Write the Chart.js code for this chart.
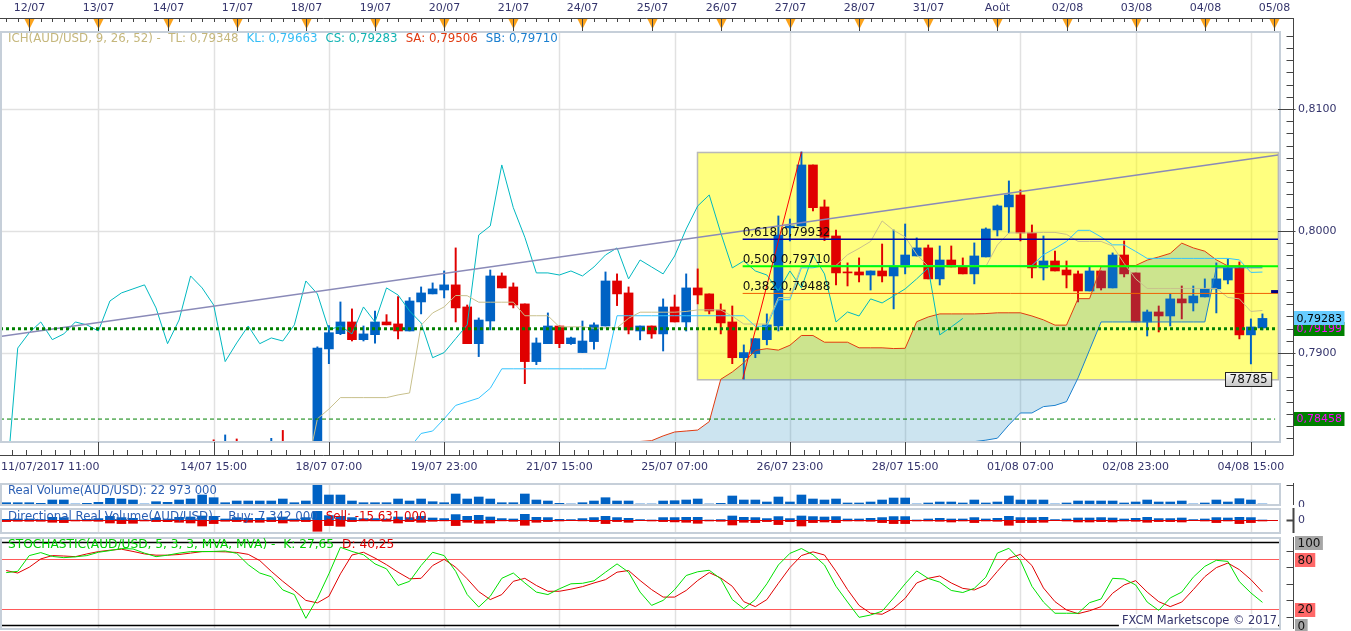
<!DOCTYPE html>
<html lang="fr">
<head>
<meta charset="UTF-8" />
<title>AUD/USD H4 - Ichimoku</title>
<style>
  body { margin: 0; background: #fff; width: 1351px; height: 631px; overflow: hidden; position: relative; }
  canvas { position: absolute; left: 0; }
</style>
</head>
<body>
<canvas id="main" width="1351" height="476" style="top:0"></canvas>
<canvas id="vol" width="1351" height="31" style="top:476px"></canvas>
<canvas id="dir" width="1351" height="29" style="top:507px"></canvas>
<canvas id="sto" width="1351" height="95" style="top:536px"></canvas>

<script src="https://cdn.jsdelivr.net/npm/chart.js"></script>
<script>
// 4h candles, index 0 = 11/07 15:00, index 109 = 04/08 19:00
const opens = [
  null,null,null,null,null,null,null,null,null,null,
  null,null,null,null,null,null,null,null,0.7826,0.7805,
  0.7824,null,null,0.7815,0.78275,null,null,0.7792,0.79033,0.79158,
  0.79254,0.79109,0.79150,0.79254,0.79238,0.79180,0.79418,0.79484,0.79516,0.79558,
  0.79377,0.79076,0.79262,0.79631,0.79541,0.79402,0.78929,0.79076,0.79221,0.79076,
  0.79003,0.79093,0.79221,0.79590,0.79492,0.79180,0.79221,0.79156,0.79377,0.79254,
  0.79533,0.79484,0.79352,0.79254,0.78961,0.78994,0.79109,0.79221,0.80025,0.80041,
  0.80541,0.80197,0.79959,0.79664,0.79664,0.79639,0.79672,0.79631,0.79705,0.79795,
  0.79861,0.79607,0.79762,0.79705,0.79648,0.79787,0.80008,0.80197,0.80295,0.79984,
  0.79697,0.79754,0.79680,0.79648,0.79508,0.79672,0.79533,0.79803,0.79656,0.79254,
  0.79336,0.79303,0.79443,0.79410,0.79459,0.79525,0.79598,0.79697,0.79148,0.79205
];
const highs = [
  null,null,null,null,null,null,null,null,null,null,
  null,null,null,null,null,null,null,null,0.78288,0.78328,
  0.78295,null,null,0.78300,0.78365,null,null,0.7905,0.79224,0.79418,
  0.79361,0.79221,0.79344,0.79314,0.79462,0.79454,0.79541,0.79574,0.79672,0.79861,
  0.79393,0.79287,0.79680,0.79656,0.79574,0.79402,0.79123,0.79328,0.79221,0.79130,
  0.79262,0.79246,0.79664,0.79648,0.79541,0.79221,0.79221,0.79443,0.79475,0.79648,
  0.79689,0.79484,0.79402,0.79385,0.79066,0.79117,0.79320,0.80123,0.80098,0.80648,
  0.80541,0.80254,0.80008,0.79738,0.79779,0.79672,0.79893,0.80008,0.80057,0.79943,
  0.79885,0.79877,0.79877,0.79779,0.79902,0.80025,0.80213,0.80410,0.80336,0.80049,
  0.79959,0.79836,0.79754,0.79672,0.79705,0.79672,0.79820,0.79918,0.79656,0.79352,
  0.79385,0.79484,0.79549,0.79549,0.79607,0.79738,0.79770,0.79746,0.79279,0.79320
];
const lows = [
  null,null,null,null,null,null,null,null,null,null,
  null,null,null,null,null,null,null,null,0.7812,0.7800,
  0.7805,null,null,0.7810,0.7808,null,null,0.7786,0.78912,0.79150,
  0.79098,0.79098,0.79081,0.79230,0.79115,0.79180,0.79320,0.79484,0.79451,0.79254,
  0.79076,0.78970,0.79189,0.79533,0.79369,0.78748,0.78904,0.79076,0.79043,0.79070,
  0.79003,0.79030,0.79221,0.79388,0.79156,0.79107,0.79120,0.79016,0.79254,0.79180,
  0.79402,0.79320,0.79156,0.78912,0.78785,0.78961,0.79066,0.79180,0.79918,0.80041,
  0.80164,0.79921,0.79557,0.79549,0.79582,0.79516,0.79582,0.79361,0.79648,0.79795,
  0.79607,0.79557,0.79705,0.79648,0.79566,0.79787,0.79959,0.79984,0.79918,0.79615,
  0.79598,0.79672,0.79533,0.79418,0.79508,0.79516,0.79533,0.79623,0.79254,0.79139,
  0.79172,0.79221,0.79279,0.79344,0.79459,0.79328,0.79566,0.79115,0.78910,0.79189
];
const closes = [
  null,null,null,null,null,null,null,null,null,null,
  null,null,null,null,null,null,null,null,0.7815,0.7822,
  0.7810,null,null,0.78275,0.7812,null,null,0.7904,0.79166,0.79254,
  0.79109,0.79156,0.79254,0.79230,0.79180,0.79426,0.79492,0.79525,0.79558,0.79369,
  0.79076,0.79270,0.79631,0.79533,0.79393,0.78929,0.79082,0.79221,0.79076,0.79123,
  0.79098,0.79230,0.79590,0.79484,0.79189,0.79221,0.79156,0.79377,0.79254,0.79533,
  0.79475,0.79344,0.79246,0.78961,0.79003,0.79117,0.79230,0.79967,0.80041,0.80541,
  0.80191,0.79948,0.79656,0.79656,0.79639,0.79672,0.79631,0.79705,0.79803,0.79861,
  0.79607,0.79762,0.79705,0.79648,0.79795,0.80016,0.80205,0.80295,0.79984,0.79697,
  0.79754,0.79672,0.79639,0.79508,0.79672,0.79533,0.79803,0.79648,0.79254,0.79336,
  0.79303,0.79443,0.79410,0.79467,0.79525,0.79607,0.79697,0.79148,0.79213,0.79283
];

// Ichimoku lines
const tenkan = [
  null,null,null,null,null,null,null,null,null,null,
  null,null,null,null,null,null,null,null,null,null,
  null,null,null,null,null,null,0.7800,0.7846,0.7854,0.78634,
  0.78634,0.78634,0.78634,0.78634,0.78656,0.78672,0.79227,0.79328,0.79377,0.79471,
  0.79469,0.79416,0.79416,0.79416,0.79416,0.79305,0.79305,0.79305,0.79214,0.79214,
  0.79214,0.79202,0.79206,0.79206,0.79284,0.79334,0.79334,0.79334,0.79334,0.79340,
  0.79353,0.79353,0.79353,0.79301,0.79237,0.79237,0.79237,0.79454,0.79454,0.79717,
  0.79717,0.79717,0.79717,0.79805,0.79857,0.79914,0.80082,0.80005,0.79951,0.79808,
  0.79709,0.79709,0.79709,0.79709,0.79709,0.79709,0.79885,0.79984,0.79984,0.79984,
  0.79988,0.79988,0.79972,0.79914,0.79914,0.79914,0.79877,0.79734,0.79607,0.79529,
  0.79529,0.79529,0.79529,0.79529,0.79529,0.79529,0.79455,0.79443,0.79340,0.79348
];
const kijun = [
  null,null,null,null,null,null,null,null,null,null,
  null,null,null,null,null,null,null,null,null,null,
  null,null,null,null,null,null,null,null,null,null,
  null,null,null,null,null,0.7822,0.7834,0.7836,0.7846,0.7857,
  0.7860,0.7863,0.7871,0.7887,0.7887,0.7887,0.7887,0.7887,0.7887,0.7887,
  0.7887,0.7887,0.7887,0.79305,0.79305,0.79305,0.79305,0.79305,0.79305,0.79305,
  0.79305,0.79305,0.79305,0.79305,0.79305,0.79219,0.79219,0.79436,0.79436,0.79698,
  0.79698,0.79717,0.79717,0.79717,0.79717,0.79717,0.79717,0.79717,0.79717,0.79717,
  0.79717,0.79717,0.79717,0.79717,0.79717,0.79717,0.79717,0.79717,0.79717,0.79717,
  0.79805,0.79857,0.79914,0.80005,0.80005,0.79951,0.79886,0.79886,0.79832,0.79775,
  0.79775,0.79775,0.79775,0.79775,0.79775,0.79775,0.79775,0.79763,0.79660,0.79663
];
const senkouA = [
  null,null,null,null,null,null,null,null,null,null,
  null,null,null,null,null,null,null,null,null,null,
  null,null,null,null,null,null,null,null,null,null,
  null,null,null,null,null,null,null,null,null,null,
  null,null,null,null,null,null,null,null,null,null,
  null,null,null,0.7815,0.7822,0.78274,0.78281,0.7832,0.78352,0.7836,
  0.78368,0.78437,0.78784,0.78844,0.78919,0.79021,0.79035,0.79023,0.79063,0.79143,
  0.79143,0.79088,0.79088,0.79088,0.79042,0.79042,0.79042,0.79036,0.79038,0.79256,
  0.79295,0.79320,0.79320,0.79320,0.79320,0.79323,0.79329,0.79329,0.79329,0.79303,
  0.79271,0.79228,0.79228,0.79445,0.79445,0.79708,0.79708,0.79717,0.79717,0.79761,
  0.79787,0.79816,0.79900,0.79861,0.79834,0.79763,0.79713,0.79713,0.79713,0.79713
];
const senkouB = [
  null,null,null,null,null,null,null,null,null,null,
  null,null,null,null,null,null,null,null,null,null,
  null,null,null,null,null,null,null,null,null,null,
  null,null,null,null,null,null,null,null,null,null,
  null,null,null,null,null,null,null,null,null,null,
  null,null,null,0.7762,0.7762,0.7762,0.7762,0.7762,0.7762,0.7762,
  0.7762,0.7762,0.7762,0.7762,0.7762,0.7762,0.7762,0.7770,0.7770,0.7770,
  0.7770,0.7770,0.7770,0.7770,0.7770,0.7770,0.7790,0.7790,0.7790,0.7790,
  0.7790,0.7805,0.7815,0.7822,0.78273,0.78285,0.78301,0.78410,0.78508,0.78508,
  0.78560,0.78570,0.78601,0.78795,0.79025,0.79254,0.79254,0.79254,0.79254,0.79254,
  0.79254,0.79254,0.79254,0.79254,0.79254,0.79698,0.79698,0.79698,0.79698,0.79698
];
// chikou span, plotted from index 0
const chikou = [
  0.7790,0.7904,0.79166,0.79254,0.79109,0.79156,0.79254,0.79230,0.79180,0.79426,
  0.79492,0.79525,0.79558,0.79369,0.79076,0.79270,0.79631,0.79533,0.79393,0.78929,
  0.79082,0.79221,0.79076,0.79123,0.79098,0.79230,0.79590,0.79484,0.79189,0.79221,
  0.79156,0.79377,0.79254,0.79533,0.79475,0.79344,0.79246,0.78961,0.79003,0.79117,
  0.79230,0.79967,0.80041,0.80541,0.80191,0.79948,0.79656,0.79656,0.79639,0.79672,
  0.79631,0.79705,0.79803,0.79861,0.79607,0.79762,0.79705,0.79648,0.79795,0.80016,
  0.80205,0.80295,0.79984,0.79697,0.79754,0.79672,0.79639,0.79508,0.79672,0.79533,
  0.79803,0.79648,0.79254,0.79336,0.79303,0.79443,0.79410,0.79467,0.79525,0.79607,
  0.79697,0.79148,0.79213,0.79283
];

// drawings
const trendX = [-0.54, 110.35];
const trendY = [0.79134, 0.80623];
const zigX = [63.9, 69.0];
const zigY = [0.78785, 0.80648];
const boxX = [59.95, 110.35];
const boxY = [0.78785, 0.80648];
const fibNames = ['0,618', '0,500', '0,382'];
const fibLevels = [0.79932, 0.79710, 0.79488];
const fibStart = 63.9;
const supportLevels = [0.79199, 0.78458];
const markX = [109.75, 110.35];
const markY = [0.79503, 0.79503];
const lowTag = '78785';
const tagValues = [0.79199, 0.79283, 0.78458];
const tagTexts = ['0,79199', '0,79283', '0,78458'];
const priceGrid = [0.79, 0.80, 0.81];

// volume, in units of 100 000 lots
const volume = [
  23,23,23,17,50,50,10,17,27,67, 60,50,10,33,27,50,60,100,73,23,
  40,40,40,40,60,23,40,200,100,100, 40,23,23,23,60,40,60,33,23,110,
  60,80,60,23,23,110,50,40,17,10, 23,40,73,40,40,10,10,40,43,50,
  60,10,17,90,50,50,30,80,30,100, 60,50,60,20,20,30,50,70,70,10,
  20,30,30,20,50,20,30,90,50,50, 50,10,20,40,40,40,40,20,30,50,
  30,30,40,10,20,50,30,63,50,10
];
const buyVol = [
  10,13,13,7,30,27,3,10,17,40, 27,20,3,20,13,30,33,43,40,13,
  27,20,20,27,33,13,27,90,47,40, 27,17,17,13,33,27,40,23,17,57,
  40,50,33,17,13,60,30,27,10,7, 17,27,40,27,20,7,3,27,27,30,
  30,3,7,43,30,27,17,37,17,43, 37,33,37,13,13,20,27,37,37,3,
  13,20,13,13,27,13,20,40,27,27, 30,7,13,23,23,27,23,13,20,30,
  17,17,23,7,13,27,23,30,27,3
];
const sellVol = [
  13,10,10,10,20,23,7,7,10,27, 33,30,7,13,14,20,27,57,33,10,
  13,20,20,13,27,10,13,110,53,60, 13,6,6,10,27,13,20,10,6,53,
  20,30,27,6,10,50,20,13,7,3, 6,13,33,13,20,3,7,13,16,20,
  30,7,10,47,20,23,13,43,13,57, 23,17,23,7,7,10,23,33,33,7,
  7,10,17,7,23,7,10,50,23,23, 20,3,7,17,17,13,17,7,10,20,
  13,13,17,3,7,23,7,33,23,7
];

// stochastic 5,3,3
const stochK = [
  63.5,65,84,87.6,83,81.5,82.5,84,88,90, 92.5,92,87,82.7,84.5,87,88.8,88.8,89,89.6,
  86.7,73,63,58.6,42.6,37,8.4,32.5,62,94, 89,85,74,68,48,53,72,88,84,65,
  37,22,35,56.6,63,51,40,37,44,50, 50.6,53.6,64,74,64,40,24,30,43,60,
  64.5,66.3,56,31,20,31,50,72.7,86.7,92.5, 85,72.7,47,28,9.6,12.4,17,33,50,65.5,
  56.5,52,42,39.5,44.6,58,87,92.8,78,47, 28,14.5,14.5,14.5,27.3,31.7,56.6,55.8,48.6,28,
  18,33,40,58,71,78.3,77,52.6,39,27.65
];
const stochD = [
  66,63,70,80,84,83.5,82.7,86,88.8,90.5, 91.7,89,86,84.5,84.5,85.3,87,88.8,88.8,88.5,
  87.8,85.5,78,65,53,42,30,27,35,62, 84.7,88,81,73,64,56,56.6,72,79.5,70,
  56,40.6,31,37,53,56.6,48,41,41,43.5, 46.6,51,55,64,66,54,43,34,34,42,
  54,63.5,57,47,28.5,22.5,31,50.6,69.5,84, 88.5,84.7,65,43,24,14.5,13.3,20.5,32.5,51,
  56.6,59.4,51,44.5,42.6,48.6,65,80.7,85.5,72, 45,28.5,18.5,14,17.5,22.5,38.6,48.6,53.8,40,
  28.5,22.5,28,43,58.6,69.5,75,67,55,40.25
];
const stoLines = [100, 80, 20, 0];
const stoTicks = [10, 30, 50, 70, 90];

// time axes
const dayLabels = ['12/07','13/07','14/07','17/07','18/07','19/07','20/07','21/07','24/07','25/07',
                   '26/07','27/07','28/07','31/07','Août','02/08','03/08','04/08','05/08'];
const dayTickIdx = [2,8,14,20,26,32,38,44,50,56,62,68,74,80,86,92,98,104,110];
const gridIdx = [8,18,28,38,48,58,68,78,88,98,108];
const timeLabels = ['14/07 15:00','18/07 07:00','19/07 23:00','21/07 15:00','25/07 07:00',
                    '26/07 23:00','28/07 15:00','01/08 07:00','02/08 23:00','04/08 15:00'];
const timeIdx = [18,28,38,48,58,68,78,88,98,108];
const startLabel = '11/07/2017 11:00';

// ---------------------------------------------------------------
const X_MIN = -0.538, X_MAX = 110.35;
const AXIS_X = 1293.5;
const FONT = '"DejaVu Sans", Verdana, sans-serif';
const INK = '#34346c';
const UP = '#0062c4', DOWN = '#e00000';
const CLOUD = 'rgba(33,138,190,0.23)';

Chart.defaults.font.family = FONT;
Chart.defaults.font.size = 11;

function font(size) { return size + 'px ' + FONT; }
function seg(ctx, x1, y1, x2, y2) { ctx.beginPath(); ctx.moveTo(x1, y1); ctx.lineTo(x2, y2); ctx.stroke(); }
function px(scale, v) { return Math.round(scale.getPixelForValue(v)) + 0.5; }
function comma(v, d) { return v.toFixed(d).replace('.', ','); }

function pts(arr) {
  const out = [];
  arr.forEach((v, k) => { if (v !== null) out.push({ x: k, y: v }); });
  return out;
}
function pairs(xs, ys) { return xs.map((v, k) => ({ x: v, y: ys[k] })); }
function lineDs(data, color, width, order, extra) {
  return Object.assign({
    type: 'line', data: data, borderColor: color, borderWidth: width,
    pointRadius: 0, tension: 0, fill: false, order: order, clip: 0
  }, extra || {});
}

function baseOptions(yMin, yMax, padding) {
  return {
    responsive: false,
    animation: false,
    events: [],
    layout: { padding: padding },
    plugins: { legend: { display: false }, tooltip: { enabled: false } },
    scales: {
      x: { type: 'linear', min: X_MIN, max: X_MAX, offset: false, display: false },
      y: { type: 'linear', min: yMin, max: yMax, display: false }
    }
  };
}

function drawVGrid(chart) {
  const { ctx, chartArea: a, scales: { x } } = chart;
  ctx.strokeStyle = '#e1e1e1';
  ctx.lineWidth = 1.5;
  gridIdx.forEach(g => { const p = px(x, g); seg(ctx, p, a.top, p, a.bottom); });
}
function drawFrame(chart) {
  const { ctx, chartArea: a } = chart;
  ctx.strokeStyle = '#c6cfd9';
  ctx.lineWidth = 2;
  ctx.strokeRect(a.left + 1, a.top + 1, a.right - a.left + 1, a.bottom - a.top - 1);
}
function drawRun(ctx, parts, x0, y, gap) {
  let x = x0;
  parts.forEach(p => {
    ctx.fillStyle = p[1];
    ctx.fillText(p[0], x, y);
    x += ctx.measureText(p[0]).width + gap;
  });
}
function tagBox(ctx, text, x, yc, bg, fg) {
  const w = ctx.measureText(text).width + 5;
  ctx.fillStyle = bg;
  ctx.fillRect(x, Math.round(yc) - 7, w, 14);
  ctx.fillStyle = fg;
  ctx.fillText(text, x + 2.5, yc + 0.5);
}

// ---------------- main panel ----------------
const candleIdx = [];
opens.forEach((o, k) => { if (o !== null) candleIdx.push(k); });
const candleColors = candleIdx.map(k => closes[k] >= opens[k] ? UP : DOWN);

const mainDecor = {
  id: 'mainDecor',
  beforeDatasetsDraw(chart) {
    const { ctx, chartArea: a, scales: { x, y } } = chart;
    ctx.save();
    drawVGrid(chart);
    priceGrid.forEach(p => { const q = px(y, p); seg(ctx, a.left, q, a.right, q); });
    const x0 = x.getPixelForValue(boxX[0]), x1 = x.getPixelForValue(boxX[1]);
    const y0 = y.getPixelForValue(boxY[1]), y1 = y.getPixelForValue(boxY[0]);
    ctx.fillStyle = 'rgba(255,255,0,0.5)';
    ctx.fillRect(x0, y0, x1 - x0, y1 - y0);
    ctx.strokeStyle = '#b9b9b9';
    ctx.lineWidth = 1.5;
    ctx.strokeRect(Math.round(x0) + 0.5, Math.round(y0) + 0.5, x1 - x0, y1 - y0);
    ctx.restore();
  },
  afterDraw(chart) {
    const { ctx, chartArea: a, scales: { x, y } } = chart;
    ctx.save();
    drawFrame(chart);

    // fibonacci labels
    ctx.font = font(12);
    ctx.textAlign = 'left';
    ctx.textBaseline = 'alphabetic';
    ctx.fillStyle = '#111';
    fibLevels.forEach((lv, n) => {
      ctx.fillText(fibNames[n] + ' ' + comma(lv, 5), x.getPixelForValue(fibStart), y.getPixelForValue(lv) - 3);
    });

    // low tag
    const ly = Math.round(y.getPixelForValue(boxY[0]));
    const bw = ctx.measureText(lowTag).width + 8;
    const bx = Math.round(a.right - 7 - bw) + 0.5;
    const grad = ctx.createLinearGradient(0, ly - 6, 0, ly + 8);
    grad.addColorStop(0, '#f6f6f6');
    grad.addColorStop(1, '#c4c4c4');
    ctx.fillStyle = grad;
    ctx.fillRect(bx, ly - 6.5, bw, 14);
    ctx.strokeStyle = '#222';
    ctx.lineWidth = 1;
    ctx.strokeRect(bx, ly - 6.5, bw, 14);
    ctx.fillStyle = '#111';
    ctx.textBaseline = 'middle';
    ctx.fillText(lowTag, bx + 4, ly + 1);

    // header
    ctx.font = font(11.8);
    drawRun(ctx, [
      ['ICH(AUD/USD, 9, 26, 52) -  TL: 0,79348', '#c5b77c'],
      ['KL: 0,79663', '#35bdf5'],
      ['CS: 0,79283', '#12b4b4'],
      ['SA: 0,79506', '#e03a10'],
      ['SB: 0,79710', '#1a7fd0']
    ], 8, 39, 8);

    // top ruler
    ctx.font = font(11);
    ctx.strokeStyle = '#444';
    ctx.lineWidth = 1;
    seg(ctx, 0, 18.5, AXIS_X, 18.5);
    for (let k = 0; k <= 110; k++) { const p = px(x, k); seg(ctx, p, 18, p, 22); }
    ctx.textAlign = 'center';
    dayTickIdx.forEach((d, n) => {
      const p = px(x, d);
      ctx.fillStyle = '#fba31c';
      ctx.beginPath();
      ctx.moveTo(p - 5, 19); ctx.lineTo(p + 5, 19); ctx.lineTo(p, 29);
      ctx.closePath(); ctx.fill();
      seg(ctx, p, 18, p, 31);
      ctx.fillStyle = INK;
      ctx.fillText(dayLabels[n], p, 8);
    });

    // bottom time axis
    seg(ctx, 0, 455.5, AXIS_X, 455.5);
    gridIdx.forEach(g => { const p = px(x, g); seg(ctx, p, a.bottom, p, 455); });
    for (let t = gridIdx[0] - 10; t < X_MAX; t += 1.25) {
      const p = px(x, t);
      if (p > 0) seg(ctx, p, 450, p, 455);
    }
    ctx.fillStyle = INK;
    timeLabels.forEach((t, n) => ctx.fillText(t, x.getPixelForValue(timeIdx[n]), 467));
    ctx.textAlign = 'left';
    ctx.fillText(startLabel, 1, 467);

    // right price axis
    seg(ctx, AXIS_X, 18, AXIS_X, 455.5);
    for (let k = 783; k <= 816; k++) {
      const q = px(y, k / 1000);
      if (k % 10 === 0) seg(ctx, a.right, q, AXIS_X + 2, q);
      else seg(ctx, AXIS_X - 7, q, AXIS_X, q);
    }
    ctx.fillStyle = INK;
    priceGrid.forEach(p => ctx.fillText(comma(p, 4), 1298, y.getPixelForValue(p) + 0.5));

    // price tags
    tagBox(ctx, tagTexts[0], 1294, y.getPixelForValue(tagValues[0]), '#008000', '#ff00ff');
    tagBox(ctx, tagTexts[1], 1294, y.getPixelForValue(tagValues[1]), '#66ccff', '#000');
    tagBox(ctx, tagTexts[2], 1294, y.getPixelForValue(tagValues[2]), '#008000', '#ff00ff');
    ctx.restore();
  }
};

new Chart(document.getElementById('main'), {
  type: 'line',
  data: {
    datasets: [
      { type: 'bar', data: candleIdx.map(k => ({ x: k, y: [lows[k], highs[k]] })),
        backgroundColor: candleColors, barThickness: 1.3, grouped: false, order: 10, clip: 0 },
      { type: 'bar', data: candleIdx.map(k => ({ x: k, y: [opens[k], closes[k]] })),
        backgroundColor: candleColors, barThickness: 9, grouped: false, minBarLength: 1, order: 9, clip: 0 },
      lineDs(pts(senkouB), '#1a7fd0', 1, 6),
      lineDs(pts(senkouA), '#e03a10', 1, 5, { fill: { target: 2, above: CLOUD, below: CLOUD } }),
      lineDs(pts(tenkan), '#c8c08c', 1, 4),
      lineDs(pts(kijun), '#33c4ff', 1, 4),
      lineDs(pts(chikou), '#00b8c0', 1, 4),
      lineDs(pairs(trendX, trendY), '#8a8ab8', 1.5, 3),
      lineDs(pairs(zigX, zigY), '#ff0000', 1, 3),
      lineDs(pairs([fibStart, X_MAX], [fibLevels[0], fibLevels[0]]), '#0000a0', 1.5, 3),
      lineDs(pairs([fibStart, X_MAX], [fibLevels[1], fibLevels[1]]), '#00ff00', 2, 3),
      lineDs(pairs([fibStart, X_MAX], [fibLevels[2], fibLevels[2]]), '#f06000', 1, 3),
      lineDs(pairs([X_MIN, 110.1], [supportLevels[0], supportLevels[0]]), '#008000', 3, 2, { borderDash: [3, 3] }),
      lineDs(pairs([X_MIN, 110.1], [supportLevels[1], supportLevels[1]]), '#008000', 1, 2, { borderDash: [4, 3] }),
      lineDs(pairs(markX, markY), '#000080', 3, 1)
    ]
  },
  options: baseOptions(0.78270, 0.81639, { left: 0, right: 73, top: 31, bottom: 34 }),
  plugins: [mainDecor]
});

// ---------------- real volume ----------------
const volDecor = {
  id: 'volDecor',
  beforeDatasetsDraw(chart) { chart.ctx.save(); drawVGrid(chart); chart.ctx.restore(); },
  afterDraw(chart) {
    const { ctx, chartArea: a, scales: { y } } = chart;
    ctx.save();
    drawFrame(chart);
    ctx.font = font(11.6);
    ctx.textAlign = 'left';
    ctx.textBaseline = 'middle';
    ctx.fillStyle = '#2b5fb4';
    ctx.fillText('Real Volume(AUD/USD): 22 973 000', 8, a.top + 7.7);
    ctx.font = font(11);
    ctx.strokeStyle = '#444';
    ctx.lineWidth = 1;
    seg(ctx, AXIS_X, a.top, AXIS_X, a.bottom);
    const t = px(y, 200);
    seg(ctx, AXIS_X - 7, t, AXIS_X, t);
    ctx.fillStyle = INK;
    ctx.fillText('0', 1298, y.getPixelForValue(0));
    ctx.restore();
  }
};
new Chart(document.getElementById('vol'), {
  type: 'line',
  data: { datasets: [
    { type: 'bar', data: pts(volume), backgroundColor: UP, barThickness: 9, grouped: false, clip: 0 }
  ] },
  options: baseOptions(0, 220, { left: 0, right: 73, top: 7, bottom: 2 }),
  plugins: [volDecor]
});

// ---------------- directional volume ----------------
const dirDecor = {
  id: 'dirDecor',
  beforeDatasetsDraw(chart) { chart.ctx.save(); drawVGrid(chart); chart.ctx.restore(); },
  afterDraw(chart) {
    const { ctx, chartArea: a, scales: { y } } = chart;
    ctx.save();
    const z = px(y, 0);
    ctx.strokeStyle = '#e00000';
    ctx.lineWidth = 1;
    seg(ctx, a.left, z, a.right, z);
    drawFrame(chart);
    ctx.font = font(11.8);
    ctx.textAlign = 'left';
    ctx.textBaseline = 'middle';
    drawRun(ctx, [
      ['Directional Real Volume(AUD/USD) -  Buy: 7 342 000', '#2b5fb4'],
      ['Sell: -15 631 000', '#e00000']
    ], 8, a.top + 8.7, 8);
    ctx.font = font(11);
    ctx.strokeStyle = '#444';
    seg(ctx, AXIS_X, a.top, AXIS_X, a.bottom);
    seg(ctx, AXIS_X - 7, z, AXIS_X, z);
    ctx.fillStyle = INK;
    ctx.fillText('0', 1298, z);
    ctx.restore();
  }
};
new Chart(document.getElementById('dir'), {
  type: 'line',
  data: { datasets: [
    { type: 'bar', data: pts(buyVol), backgroundColor: UP, barThickness: 9, grouped: false, clip: 0 },
    { type: 'bar', data: pts(sellVol.map(v => -v)), backgroundColor: DOWN, barThickness: 9, grouped: false, clip: 0 }
  ] },
  options: baseOptions(-127, 123, { left: 0, right: 73, top: 1, bottom: 3 }),
  plugins: [dirDecor]
});

// ---------------- stochastic ----------------
const stoDecor = {
  id: 'stoDecor',
  beforeDatasetsDraw(chart) {
    const { ctx, chartArea: a, scales: { y } } = chart;
    ctx.save();
    drawVGrid(chart);
    stoLines.forEach(v => {
      const q = px(y, v);
      const edge = v === 0 || v === 100;
      ctx.strokeStyle = edge ? '#000' : '#ff5a5a';
      ctx.lineWidth = edge ? 1.5 : 1;
      seg(ctx, a.left, q, a.right + 2, q);
    });
    ctx.restore();
  },
  afterDraw(chart) {
    const { ctx, chartArea: a, scales: { y } } = chart;
    ctx.save();
    drawFrame(chart);
    ctx.font = font(12.2);
    ctx.textAlign = 'left';
    ctx.textBaseline = 'middle';
    drawRun(ctx, [
      ['STOCHASTIC(AUD/USD, 5, 3, 3, MVA, MVA) -  K: 27,65', '#00d000'],
      ['D: 40,25', '#e00000']
    ], 8, a.top + 8, 8);
    ctx.font = font(11);
    ctx.strokeStyle = '#444';
    ctx.lineWidth = 1;
    seg(ctx, AXIS_X, a.top, AXIS_X, a.bottom);
    stoTicks.forEach(v => { const q = px(y, v); seg(ctx, AXIS_X - 7, q, AXIS_X, q); });
    ctx.font = font(12);
    stoLines.forEach(v => {
      const edge = v === 0 || v === 100;
      tagBox(ctx, String(v), 1295, y.getPixelForValue(v) + 1, edge ? '#a6a6a6' : '#ff6868', '#111');
    });
    ctx.font = font(11.4);
    const credit = 'FXCM Marketscope © 2017';
    const w = ctx.measureText(credit).width;
    ctx.fillStyle = '#fff';
    ctx.fillRect(a.right - w - 4, a.bottom - 15, w + 4, 13);
    ctx.fillStyle = INK;
    ctx.fillText(credit, a.right - w - 1, a.bottom - 8);
    ctx.restore();
  }
};
new Chart(document.getElementById('sto'), {
  type: 'line',
  data: { datasets: [
    lineDs(pts(stochD), '#e00000', 1, 2),
    lineDs(pts(stochK), '#00e000', 1, 1)
  ] },
  options: baseOptions(-4.46, 106.4, { left: 0, right: 73, top: 1, bottom: 2 }),
  plugins: [stoDecor]
});
</script>
</body>
</html>
